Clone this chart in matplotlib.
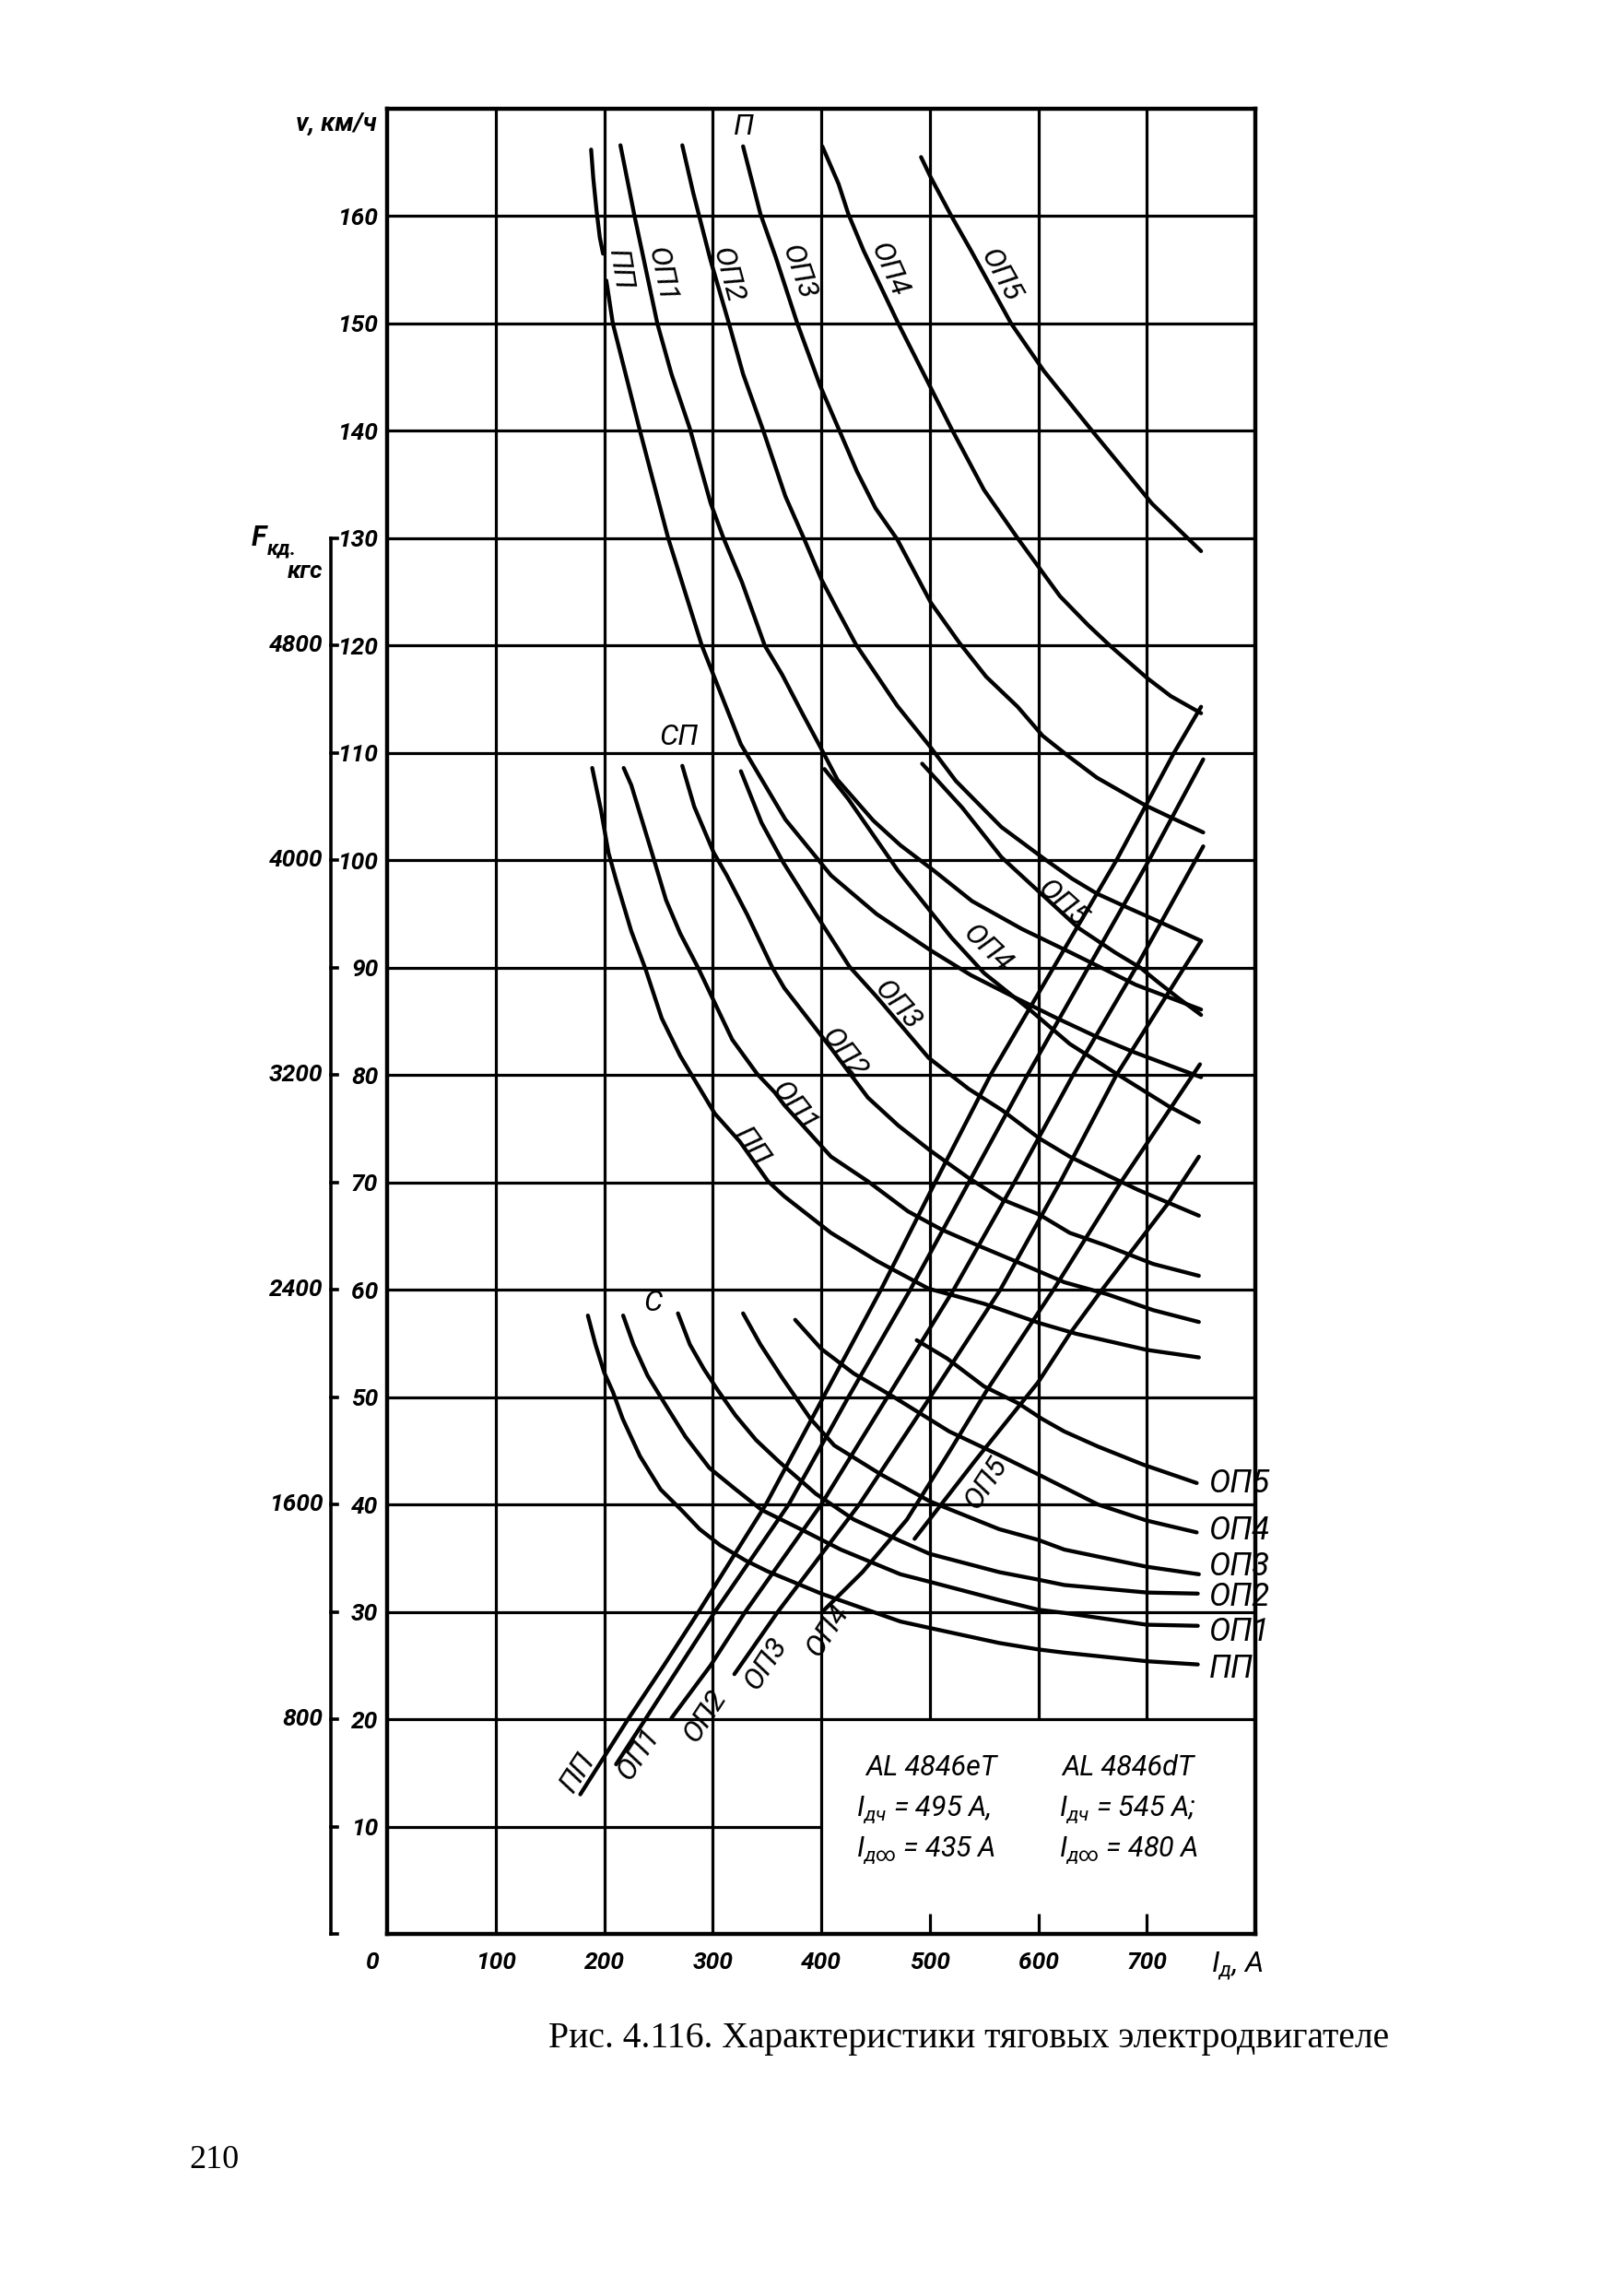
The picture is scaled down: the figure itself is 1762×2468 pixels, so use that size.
import matplotlib
matplotlib.use("Agg")
import matplotlib.pyplot as plt

FONT = ['Roboto', 'DejaVu Sans']
plt.rcParams['font.family'] = FONT
plt.rcParams['mathtext.fontset'] = 'custom'
plt.rcParams['mathtext.rm'] = 'Roboto'
plt.rcParams['mathtext.it'] = 'Roboto:italic'
plt.rcParams['mathtext.bf'] = 'Roboto:bold'

# ---------------- data (current I, A ; speed v, km/h) ----------------
x_ticks = [100, 200, 300, 400, 500, 600, 700]
v_ticks = [10, 20, 30, 40, 50, 60, 70, 80, 90, 100, 110, 120, 130, 140, 150, 160]
f_tick_v = [20, 40, 60, 80, 100, 120]
f_tick_labels = ['800', '1600', '2400', '3200', '4000', '4800']

# group П (parallel)
p_pp_top_i = [188, 190, 193, 196, 199]
p_pp_top_v = [166.2, 163.5, 160.5, 158, 156.5]
p_pp_i = [202, 208, 218, 233, 259, 290, 326, 367, 409, 451, 501, 538, 577, 617, 653, 689, 726, 750]
p_pp_v = [154, 150, 146, 140, 130, 120, 110.8, 103.8, 98.6, 95, 91.6, 89.3, 87.3, 85.3, 83.6, 82.1, 80.7, 79.8]
p_op1_i = [215, 228, 236, 249, 262, 279, 298, 310, 327, 348, 364, 382, 400, 415, 448, 473, 503, 539, 585, 630, 690, 750]
p_op1_v = [166.6, 160, 156.2, 150, 145.3, 140.2, 133.3, 130, 125.9, 120, 117.3, 113.8, 110.4, 107.5, 103.7, 101.4, 99.1, 96.2, 93.6, 91.4, 88.4, 86.1]
p_op2_i = [272, 282, 298, 315, 328, 346, 367, 384, 400, 415, 432, 470, 501, 524, 566, 606, 631, 654, 680, 711, 750]
p_op2_v = [166.6, 162.2, 155.9, 150, 145.3, 140.2, 133.9, 130, 126.2, 123.3, 120.1, 114.4, 110.5, 107.4, 103.1, 100.1, 98.3, 96.9, 95.7, 94.3, 92.5]
p_op3_i = [328, 344, 358, 378, 399, 416, 433, 450, 470, 501, 527, 552, 581, 604, 629, 654, 699, 722, 752]
p_op3_v = [166.5, 160.2, 156.2, 150, 144.2, 140.2, 136.2, 132.8, 129.9, 124, 120.3, 117.1, 114.3, 111.6, 109.6, 107.7, 105.1, 104, 102.6]
p_op4_i = [401, 416, 425, 439, 471, 503, 520, 550, 581, 620, 646, 666, 700, 722, 750]
p_op4_v = [166.5, 163, 160.2, 156.8, 150, 143.6, 140.2, 134.5, 130, 124.6, 121.9, 120, 117, 115.3, 113.7]
p_op5_i = [492, 501, 520, 538, 575, 605, 648, 705, 750]
p_op5_v = [165.5, 163.6, 160, 156.8, 150, 145.6, 140.2, 133.2, 128.8]

# group СП (series-parallel)
sp_pp_i = [189, 197, 204, 212, 225, 238, 253, 270, 302, 325, 351, 366, 409, 451, 499, 550, 601, 635, 700, 748]
sp_pp_v = [108.6, 104.7, 100.7, 97.8, 93.4, 89.9, 85.3, 81.8, 76.4, 73.8, 70.1, 68.7, 65.3, 62.7, 60.1, 58.7, 56.9, 55.9, 54.4, 53.7]
sp_op1_i = [218, 225, 244, 257, 270, 287, 302, 318, 341, 357, 366, 409, 443, 480, 511, 545, 578, 624, 663, 706, 748]
sp_op1_v = [108.6, 107, 100.7, 96.3, 93.2, 89.9, 86.7, 83.3, 80.1, 78.4, 77.2, 72.4, 70.1, 67.3, 65.6, 64.1, 62.7, 60.7, 59.6, 58.1, 57]
sp_op2_i = [272, 283, 301, 313, 332, 355, 366, 409, 443, 471, 500, 536, 567, 601, 629, 663, 706, 748]
sp_op2_v = [108.8, 105, 100.7, 98.6, 94.9, 90, 88.1, 82.5, 77.9, 75.3, 73, 70.4, 68.4, 67, 65.3, 64.1, 62.4, 61.3]
sp_op3_i = [326, 345, 365, 395, 426, 451, 499, 536, 567, 601, 629, 663, 692, 720, 748]
sp_op3_v = [108.3, 103.5, 99.8, 95, 90.1, 87.3, 81.6, 78.7, 76.7, 74.1, 72.4, 70.7, 69.3, 68.1, 66.9]
sp_op4_i = [403, 425, 471, 520, 550, 592, 629, 674, 720, 748]
sp_op4_v = [108.5, 105.7, 99, 92.8, 89.5, 86.1, 82.9, 80, 77.1, 75.6]
sp_op5_i = [493, 530, 566, 581, 637, 671, 694, 711, 730, 750]
sp_op5_v = [109, 104.9, 100.3, 98.9, 93.7, 91.4, 90, 88.6, 87.1, 85.6]

# group С (series)
c_pp_i = [185, 192, 200, 208, 217, 233, 252, 272, 288, 307, 330, 350, 400, 442, 473, 500, 564, 600, 624, 700, 747]
c_pp_v = [57.6, 54.9, 52.3, 50.5, 48, 44.5, 41.4, 39.4, 37.7, 36.2, 34.8, 33.8, 31.7, 30.2, 29.1, 28.5, 27.1, 26.5, 26.2, 25.4, 25.1]
c_op1_i = [217.5, 227, 240, 257, 275, 297, 320, 345, 385, 418, 473, 500, 564, 600, 624, 700, 747]
c_op1_v = [57.6, 54.9, 52, 49.2, 46.3, 43.4, 41.5, 39.5, 37.5, 35.8, 33.5, 32.8, 31.1, 30.2, 29.9, 28.8, 28.7]
c_op2_i = [268, 279, 292, 305, 321, 340, 361, 395, 430, 473, 500, 564, 600, 624, 700, 747]
c_op2_v = [57.8, 54.9, 52.6, 50.6, 48.3, 46, 44, 41, 38.6, 36.6, 35.4, 33.7, 33, 32.5, 31.8, 31.7]
c_op3_i = [328, 344, 364, 390, 412, 455, 500, 564, 600, 624, 700, 748]
c_op3_v = [57.8, 54.9, 51.8, 48, 45.5, 42.8, 40.3, 37.7, 36.7, 35.8, 34.2, 33.5]
c_op4_i = [376, 400, 430, 467, 518, 564, 600, 655, 700, 746]
c_op4_v = [57.2, 54.5, 52.2, 50, 46.8, 44.6, 42.8, 40, 38.5, 37.4]
c_op5_i = [488, 516, 550, 582, 603, 624, 655, 697, 746]
c_op5_v = [55.3, 53.6, 51, 49.4, 48, 46.8, 45.4, 43.7, 42]

# traction force lines (read on the v scale, F = 40 * v kgf)
f_pp_i = [178, 222, 255, 287, 349, 402, 455, 505, 556, 614, 672, 725, 750]
f_pp_v = [13, 20, 25, 30, 40, 50, 60, 70, 80, 90, 100, 110, 114.3]
f_op1_i = [211, 238, 302, 370, 425, 482, 536, 590, 646, 702, 752]
f_op1_v = [15.8, 20, 30, 40, 50, 60, 70, 80, 90, 100, 109.4]
f_op2_i = [262, 298, 330, 400, 461, 522, 578, 632, 690, 752]
f_op2_v = [20.1, 25, 30, 40, 50, 60, 70, 80, 90, 101.3]
f_op3_i = [320, 360, 435, 505, 565, 620, 672, 750]
f_op3_v = [24.2, 30, 40, 50.7, 60, 70, 80, 92.5]
f_op4_i = [401, 438, 479, 518, 553, 614, 676, 749]
f_op4_v = [30, 33.7, 38.6, 44.9, 50.7, 60, 70, 81]
f_op5_i = [486, 542, 600, 629, 658, 692, 720, 748]
f_op5_v = [36.8, 44.1, 51.4, 55.9, 59.9, 64.4, 68.1, 72.4]

# ---------------- figure ----------------
W, H = 1762, 2468
fig = plt.figure(figsize=(W / 100, H / 100), dpi=100)
fig.patch.set_facecolor('white')
ax = fig.add_axes([420 / W, 1 - 2098 / H, 942 / W, 1980 / H])
ax.set_xlim(0, 800)
ax.set_ylim(0, 170)

LW = 3.1
GW = 2.3
K = 'black'

for s in ax.spines.values():
    s.set_linewidth(3.2)
    s.set_color(K)

# grid
for xv in x_ticks:
    if xv <= 400:
        ax.plot([xv, xv], [0, 170], color=K, lw=GW, solid_capstyle='butt')
    else:
        ax.plot([xv, xv], [20, 170], color=K, lw=GW, solid_capstyle='butt')
        ax.plot([xv, xv], [0, 1.9], color=K, lw=GW, solid_capstyle='butt')
for vv in v_ticks:
    if vv == 10:
        ax.plot([0, 400], [vv, vv], color=K, lw=GW, solid_capstyle='butt')
    else:
        ax.plot([0, 800], [vv, vv], color=K, lw=GW, solid_capstyle='butt')

curves = [
    (p_pp_top_i, p_pp_top_v), (p_pp_i, p_pp_v), (p_op1_i, p_op1_v), (p_op2_i, p_op2_v),
    (p_op3_i, p_op3_v), (p_op4_i, p_op4_v), (p_op5_i, p_op5_v),
    (sp_pp_i, sp_pp_v), (sp_op1_i, sp_op1_v), (sp_op2_i, sp_op2_v),
    (sp_op3_i, sp_op3_v), (sp_op4_i, sp_op4_v), (sp_op5_i, sp_op5_v),
    (c_pp_i, c_pp_v), (c_op1_i, c_op1_v), (c_op2_i, c_op2_v),
    (c_op3_i, c_op3_v), (c_op4_i, c_op4_v), (c_op5_i, c_op5_v),
    (f_pp_i, f_pp_v), (f_op1_i, f_op1_v), (f_op2_i, f_op2_v),
    (f_op3_i, f_op3_v), (f_op4_i, f_op4_v), (f_op5_i, f_op5_v),
]
for ci, cv in curves:
    ax.plot(ci, cv, color=K, lw=LW, solid_joinstyle='round', solid_capstyle='round')

# ---------------- ticks ----------------
TF = dict(fontsize=19, style='italic', weight='bold')
ax.set_xticks(x_ticks)
ax.set_xticklabels([str(t) for t in x_ticks], **TF)
ax.set_yticks(v_ticks)
ax.set_yticklabels([str(t) for t in v_ticks], **TF)
ax.tick_params(axis='both', length=0)
ax.tick_params(axis='x', pad=14)
ax.tick_params(axis='y', pad=7)
ax.text(-13, -2.7, '0', ha='center', va='center', **TF)
ax.text(783, -3.0, r'$I_{д}$, A', ha='center', va='center', fontsize=23, style='italic')
ax.text(-0.012, 168.6, 'v, км/ч', transform=ax.get_yaxis_transform(), ha='right', va='center',
        fontsize=20, style='italic', weight='bold')

# F scale
yt = ax.get_yaxis_transform()
ax.plot([-0.065, -0.065], [0, 130], transform=yt, color=K, lw=2.6, clip_on=False)
for vv in range(0, 140, 10):
    ax.plot([-0.065, -0.057], [vv, vv], transform=yt, color=K, lw=2.6, clip_on=False)
for vv, lab in zip(f_tick_v, f_tick_labels):
    ax.text(-0.074, vv, lab, transform=yt, ha='right', va='center', **TF)
fig.text(289 / W, 1 - 583 / H, 'F', ha='right', va='center', fontsize=22, style='italic', weight='bold')
fig.text(290 / W, 1 - 596 / H, 'кд.', ha='left', va='center', fontsize=16, style='italic', weight='bold')
fig.text(350 / W, 1 - 620 / H, 'кгс', ha='right', va='center', fontsize=19, style='italic', weight='bold')

# ---------------- curve labels ----------------
LF = dict(fontsize=23, style='italic', ha='center', va='center')
# П group
for (xi, vi, t, r) in [(215, 155, 'ПП', -81), (253, 154.5, 'ОП1', -78), (314, 154.5, 'ОП2', -75),
                       (379, 154.8, 'ОП3', -71), (462, 155, 'ОП4', -66), (565, 154.5, 'ОП5', -61)]:
    ax.text(xi, vi, t, rotation=r, rotation_mode='anchor', **LF)
# СП group
for (xi, vi, t, r) in [(336, 73.3, 'ПП', -55), (375, 77, 'ОП1', -52), (421, 82, 'ОП2', -52),
                       (470, 86.5, 'ОП3', -49), (553, 91.8, 'ОП4', -44), (622, 96, 'ОП5', -42)]:
    ax.text(xi, vi, t, rotation=r, rotation_mode='anchor', **LF)
# force lines
for (xi, vi, t) in [(176, 15, 'ПП'), (232, 16.8, 'ОП1'), (293, 20.3, 'ОП2'),
                    (349, 25.2, 'ОП3'), (406, 28.3, 'ОП4'), (552, 42, 'ОП5')]:
    ax.text(xi, vi, t, rotation=57, rotation_mode='anchor', **LF)
# С group, right side
for (vi, t) in [(42, 'ОП5'), (37.6, 'ОП4'), (34.2, 'ОП3'), (31.4, 'ОП2'), (28.1, 'ОП1'), (24.7, 'ПП')]:
    ax.text(757, vi, t, fontsize=25, style='italic', ha='left', va='center')
# group names
ax.text(329, 168.3, 'П', **LF)
ax.text(269, 111.5, 'СП', **LF)
ax.text(245, 58.8, 'С', **LF)

# motor data
DF = dict(fontsize=22, style='italic', ha='left', va='center')
ax.text(441, 15.5, 'AL 4846eT', **DF)
ax.text(622, 15.5, 'AL 4846dT', **DF)
ax.text(432, 11.6, r'$I_{дч}$ = 495 A,', **DF)
ax.text(619, 11.6, r'$I_{дч}$ = 545 A;', **DF)
ax.text(432, 7.8, r'$I_{д\infty}$ = 435 A', **DF)
ax.text(619, 7.8, r'$I_{д\infty}$ = 480 A', **DF)

# caption and page number
fig.text(595 / W, 1 - 2211 / H, 'Рис. 4.116. Характеристики тяговых электродвигателе',
         ha='left', va='center', fontsize=28.5, family=['Liberation Serif', 'DejaVu Serif'])
fig.text(205 / W, 1 - 2343 / H, '210', ha='left', va='center', fontsize=26,
         family=['Liberation Serif', 'DejaVu Serif'])

fig.savefig('out.png', dpi=100, facecolor='white')
